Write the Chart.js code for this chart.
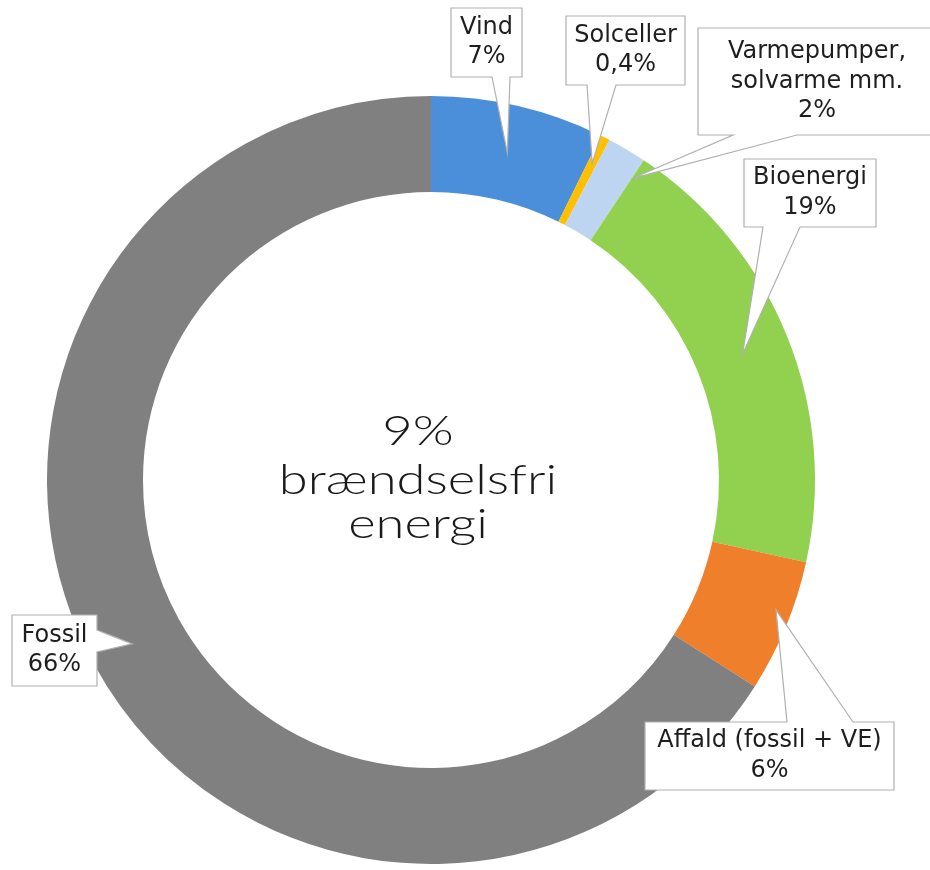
<!DOCTYPE html>
<html>
<head>
<meta charset="utf-8">
<script src="https://cdn.jsdelivr.net/npm/chart.js@4"></script>
<style>
  html, body { margin: 0; padding: 0; background: #fff; }
  #c { display: block; }
</style>
</head>
<body>
<canvas id="c" width="930" height="870"></canvas>
<script>
// ---- DATA ----
const categories = ["Vind", "Solceller", "Varmepumper,\nsolvarme mm.", "Bioenergi", "Affald (fossil + VE)", "Fossil"];
const shares = [7.3, 0.4, 1.65, 19.1, 5.6, 66.0];
const colors = ["#4B8FDA", "#FFC000", "#BDD5F0", "#92D050", "#F07F2C", "#808080"];
const fuelFreeCount = 3; // first three categories are "brændselsfri"
const centerWords = ["brændselsfri", "energi"];

function fmtPct(v) {
  if (v < 1) return v.toFixed(1).replace('.', ',') + '%';
  return Math.round(v) + '%';
}

// ---- callout layout (box geometry & pointer side/base) ----
const callouts = [
  { box: [451, 8, 71, 69],   side: 'bottom', base: [492, 510], tipAt: [0.5, 0.5] },
  { box: [566, 16, 119, 69], side: 'bottom', base: [587, 616], tipAt: [0.5, 0.7] },
  { box: [698, 28, 238, 107],side: 'bottom', base: [733, 797], tipAt: [1.0, 0.77] },
  { box: [744, 159, 132, 68],side: 'bottom', base: [763, 800], tipAt: [0.5, 0.5] },
  { box: [645, 722, 249, 68],side: 'top',    base: [787, 853], tipAt: [0.41, 0.84] },
  { box: [12, 615, 85, 71],  side: 'right',  base: [630, 652], tipAt: [0.5, 0.55] }
];

const calloutPlugin = {
  id: 'callouts',
  afterDatasetsDraw(chart) {
    const ctx = chart.ctx;
    const meta = chart.getDatasetMeta(0);
    ctx.save();
    meta.data.forEach((arc, i) => {
      const p = arc.getProps(['x', 'y', 'startAngle', 'endAngle', 'innerRadius', 'outerRadius'], true);
      const c = callouts[i];
      const ang = p.startAngle + (p.endAngle - p.startAngle) * c.tipAt[0];
      const r = p.innerRadius + (p.outerRadius - p.innerRadius) * c.tipAt[1];
      const tx = p.x + Math.cos(ang) * r, ty = p.y + Math.sin(ang) * r;
      const [x0, y0, w, h] = c.box;
      const x1 = x0 + w, y1 = y0 + h;
      const [b1, b2] = c.base;
      ctx.beginPath();
      ctx.moveTo(x0, y0);
      if (c.side === 'top') { ctx.lineTo(b1, y0); ctx.lineTo(tx, ty); ctx.lineTo(b2, y0); }
      ctx.lineTo(x1, y0);
      if (c.side === 'right') { ctx.lineTo(x1, b1); ctx.lineTo(tx, ty); ctx.lineTo(x1, b2); }
      ctx.lineTo(x1, y1);
      if (c.side === 'bottom') { ctx.lineTo(b2, y1); ctx.lineTo(tx, ty); ctx.lineTo(b1, y1); }
      ctx.lineTo(x0, y1);
      if (c.side === 'left') { ctx.lineTo(x0, b2); ctx.lineTo(tx, ty); ctx.lineTo(x0, b1); }
      ctx.closePath();
      ctx.fillStyle = '#ffffff';
      ctx.fill();
      ctx.lineWidth = 1.2;
      ctx.strokeStyle = '#b0b0b0';
      ctx.stroke();

      const lines = categories[i].split('\n').concat([fmtPct(shares[i])]);
      ctx.fillStyle = '#1e1e1e';
      ctx.font = '24px "DejaVu Sans"';
      ctx.textAlign = 'center';
      ctx.textBaseline = 'middle';
      const lh = 29.5;
      const cx = x0 + w / 2, cy = y0 + h / 2;
      const startY = cy - (lines.length - 1) * lh / 2;
      lines.forEach((t, k) => ctx.fillText(t, cx, startY + k * lh));
    });

    // centre text
    const a0 = meta.data[0];
    const total = shares.slice(0, fuelFreeCount).reduce((s, v) => s + v, 0);
    const cLines = [Math.round(total) + '%'].concat(centerWords);
    ctx.fillStyle = '#1a1a1a';
    ctx.font = '300 41px Lato, "Open Sans", sans-serif';
    ctx.textAlign = 'center';
    ctx.textBaseline = 'alphabetic';
    const baselines = [445, 494, 538];
    const sx = 1.28;
    cLines.forEach((t, k) => {
      ctx.save();
      ctx.translate(a0.x - 13, a0.y - 480 + baselines[k]);
      ctx.scale(sx, 1);
      ctx.fillText(t, 0, 0);
      ctx.restore();
    });
    ctx.restore();
  }
};

new Chart(document.getElementById('c'), {
  type: 'doughnut',
  data: {
    labels: categories,
    datasets: [{
      data: shares,
      backgroundColor: colors,
      borderWidth: 0,
      hoverOffset: 0,
      offset: 0
    }]
  },
  options: {
    responsive: false,
    animation: false,
    events: [],
    cutout: '75%',
    rotation: 0,
    layout: { padding: { left: 47, right: 115, top: 96, bottom: 6 } },
    plugins: {
      legend: { display: false },
      tooltip: { enabled: false }
    }
  },
  plugins: [calloutPlugin]
});
</script>
</body>
</html>
